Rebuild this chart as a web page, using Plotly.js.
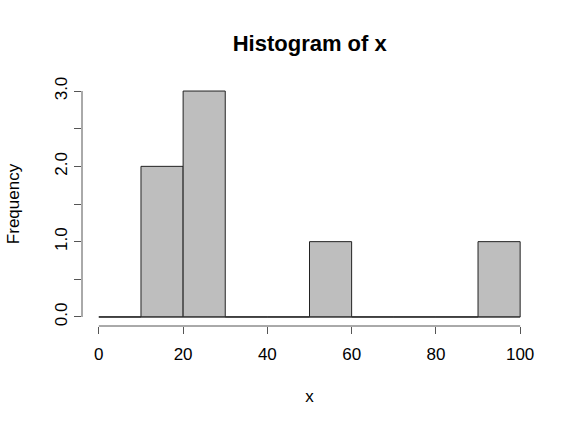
<!DOCTYPE html>
<html>
<head>
<meta charset="utf-8">
<script src="https://cdn.plot.ly/plotly-3.0.1.min.js"></script>
<style>html,body{margin:0;padding:0;background:#fff;}#chart{width:580px;height:428px;}</style>
</head>
<body>
<div id="chart"></div>
<script>
const binStarts = [0, 10, 20, 30, 40, 50, 60, 70, 80, 90];
const binWidth = 10;
const counts = [0, 2, 3, 0, 0, 1, 0, 0, 0, 1];
const xTicks = [0, 20, 40, 60, 80, 100];
const yTicks = [0, 0.5, 1, 1.5, 2, 2.5, 3];
const yTickText = ["0.0", "", "1.0", "", "2.0", "", "3.0"];

const font = "Liberation Sans, Arial, sans-serif";
const axisColor = "#555";

const bars = {
  type: "bar",
  x: binStarts.map(s => s + binWidth / 2),
  y: counts,
  width: binWidth,
  marker: { color: "#BEBEBE", line: { color: "#222", width: 1 } },
  hoverinfo: "skip"
};
const baseline = {
  type: "scatter",
  mode: "lines",
  x: [binStarts[0], binStarts[binStarts.length - 1] + binWidth],
  y: [0, 0],
  line: { color: "#333", width: 1 },
  hoverinfo: "skip"
};

const layout = {
  width: 580, height: 428,
  margin: { l: 82, r: 43, t: 82, b: 102 },
  paper_bgcolor: "#fff", plot_bgcolor: "#fff",
  showlegend: false,
  bargap: 0,
  font: { family: font, color: "#000", size: 17 },
  title: { text: "<b>Histogram of x</b>", x: 0.534, xanchor: "center", y: 0.9, yanchor: "middle", font: { size: 22, family: font } },
  xaxis: {
    range: [-4, 104], showgrid: false, zeroline: false, showline: false,
    tickmode: "array", tickvals: xTicks, ticktext: xTicks.map(String),
    ticks: "outside", ticklen: 7, tickcolor: axisColor, tickwidth: 1,
    tickfont: { size: 17 }, ticklabelstandoff: 6,
    title: { text: "x", font: { size: 17 }, standoff: 26 }
  },
  yaxis: {
    range: [-0.12, 3.12], showgrid: false, zeroline: false, showline: false,
    tickmode: "array", tickvals: yTicks, ticktext: yTickText,
    ticks: "outside", ticklen: 7, tickcolor: axisColor, tickwidth: 1,
    tickangle: -90, tickfont: { size: 17 }, ticklabelstandoff: 0,
    title: { text: "Frequency", font: { size: 17 }, standoff: 28 }
  },
  shapes: [
    { type: "line", xref: "x", yref: "paper", x0: xTicks[0], x1: xTicks[xTicks.length - 1], y0: 0, y1: 0, line: { color: axisColor, width: 1 } },
    { type: "line", xref: "paper", yref: "y", x0: 0, x1: 0, y0: yTicks[0], y1: yTicks[yTicks.length - 1], line: { color: axisColor, width: 1 } }
  ]
};

Plotly.newPlot("chart", [bars, baseline], layout, { displayModeBar: false, staticPlot: true });
</script>
</body>
</html>
